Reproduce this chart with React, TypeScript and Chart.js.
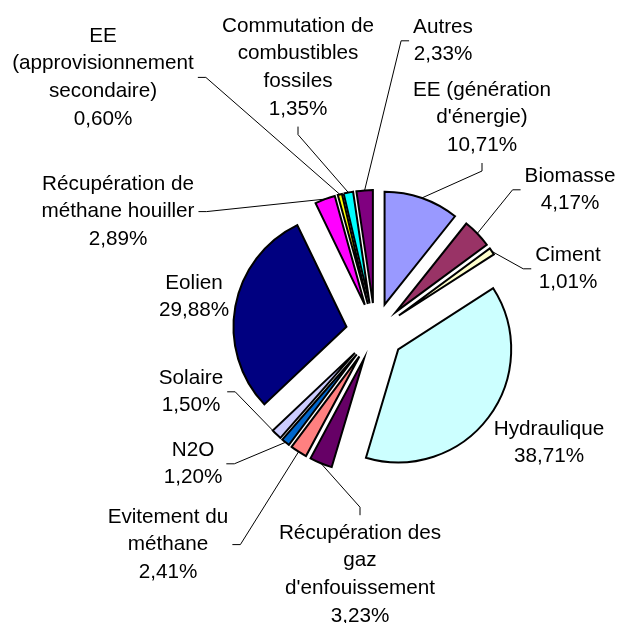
import React, { useEffect, useRef } from 'react';
import { Chart, registerables } from 'chart.js';

Chart.register(...registerables);

// ---- data ----
const categories = [
  "EE (génération d'énergie)",
  'Biomasse',
  'Ciment',
  'Hydraulique',
  "Récupération des gaz d'enfouissement",
  'Evitement du méthane',
  'N2O',
  'Solaire',
  'Eolien',
  'Récupération de méthane houiller',
  'EE (approvisionnement secondaire)',
  'Commutation de combustibles fossiles',
  'Autres',
];
const values = [10.71, 4.17, 1.01, 38.71, 3.23, 2.41, 1.2, 1.5, 29.88, 2.89, 0.6, 1.35, 2.33];
const nameLines: string[][] = [
  ['EE (génération', "d'énergie)"],
  ['Biomasse'],
  ['Ciment'],
  ['Hydraulique'],
  ['Récupération des', 'gaz', "d'enfouissement"],
  ['Evitement du', 'méthane'],
  ['N2O'],
  ['Solaire'],
  ['Eolien'],
  ['Récupération de', 'méthane houiller'],
  ['EE', '(approvisionnement', 'secondaire)'],
  ['Commutation de', 'combustibles', 'fossiles'],
  ['Autres'],
];
const colors = [
  '#9999FF', '#993366', '#FFFFCC', '#CCFFFF', '#660066', '#FF8080', '#0066CC',
  '#CCCCFF', '#000080', '#FF00FF', '#FFFF00', '#00FFFF', '#800080',
];

// ---- label layout (relative to pie centre) ----
const labelPos: [number, number][] = [
  [107, -242], [195, -156], [193, -77], [174, 97], [-15, 201], [-207, 185], [-182, 118],
  [-184, 46], [-181, -49], [-257, -148], [-272, -296], [-77, -306], [68, -305],
];
const labelAnchor = ['bottom', 'left', 'left', 'none', 'top', 'right', 'right', 'right', 'none', 'right', 'right', 'bottom', 'left'];

const EXPLODE = 29;
const RADIUS = 113;
const FONT_SIZE = 20.7;
const LINE_H = 27.6;
const GAP = 4;
const TICK = 8;
const FONT = `${FONT_SIZE}px "Liberation Sans", Arial, sans-serif`;

const fmtPct = (v: number) => v.toFixed(2).replace('.', ',') + '%';

const explodePlugin = {
  id: 'explodedPie',
  beforeDatasetDraw(chart: any, args: any) {
    const ctx = chart.ctx;
    args.meta.data.forEach((arc: any) => {
      const mid = (arc.startAngle + arc.endAngle) / 2;
      ctx.save();
      ctx.translate(Math.cos(mid) * EXPLODE, Math.sin(mid) * EXPLODE);
      arc.draw(ctx);
      ctx.restore();
    });
    return false;
  },
  afterDatasetsDraw(chart: any) {
    const ctx = chart.ctx;
    const meta = chart.getDatasetMeta(0);
    ctx.save();
    ctx.font = FONT;
    ctx.fillStyle = '#000';
    ctx.strokeStyle = '#000';
    ctx.lineWidth = 1;
    ctx.textAlign = 'center';
    ctx.textBaseline = 'middle';
    meta.data.forEach((arc: any, i: number) => {
      const lines = [...nameLines[i], fmtPct(values[i])];
      const cx = arc.x + labelPos[i][0];
      const cy = arc.y + labelPos[i][1];
      lines.forEach((t, k) => ctx.fillText(t, cx, cy + k * LINE_H));
      const anchor = labelAnchor[i];
      if (anchor === 'none') return;
      const w = Math.max(...lines.map((t) => ctx.measureText(t).width));
      const n = lines.length;
      const midY = cy + ((n - 1) * LINE_H) / 2;
      let ex = cx, ey = midY, tx = cx, ty = midY;
      if (anchor === 'left') { ex = cx - w / 2 - GAP; tx = ex - TICK; }
      else if (anchor === 'right') { ex = cx + w / 2 + GAP; tx = ex + TICK; }
      else if (anchor === 'bottom') { ey = cy + (n - 1) * LINE_H + LINE_H / 2 + GAP; ty = ey + TICK; }
      else if (anchor === 'top') { ey = cy - LINE_H / 2 - GAP; ty = ey - TICK; }
      const mid = (arc.startAngle + arc.endAngle) / 2;
      const px = arc.x + Math.cos(mid) * (EXPLODE + arc.outerRadius);
      const py = arc.y + Math.sin(mid) * (EXPLODE + arc.outerRadius);
      ctx.beginPath();
      ctx.moveTo(px, py);
      ctx.lineTo(tx, ty);
      ctx.lineTo(ex, ey);
      ctx.stroke();
    });
    ctx.restore();
  },
};

export default function App() {
  const ref = useRef<HTMLCanvasElement | null>(null);
  useEffect(() => {
    if (!ref.current) return;
    const chart = new Chart(ref.current, {
      type: 'pie',
      data: {
        labels: categories,
        datasets: [
          {
            data: values,
            backgroundColor: colors,
            borderColor: '#000',
            borderWidth: 2,
            borderJoinStyle: 'miter',
          } as any,
        ],
      },
      options: {
        animation: false,
        responsive: true,
        maintainAspectRatio: false,
        radius: RADIUS,
        layout: { padding: { left: 132, top: 41, right: 0, bottom: 0 } },
        plugins: { legend: { display: false }, tooltip: { enabled: false } },
      } as any,
      plugins: [explodePlugin],
    });
    return () => chart.destroy();
  }, []);
  return (
    <div style={{ position: 'absolute', left: 0, top: 0, width: 618, height: 623, background: '#fff' }}>
      <canvas ref={ref} />
    </div>
  );
}
